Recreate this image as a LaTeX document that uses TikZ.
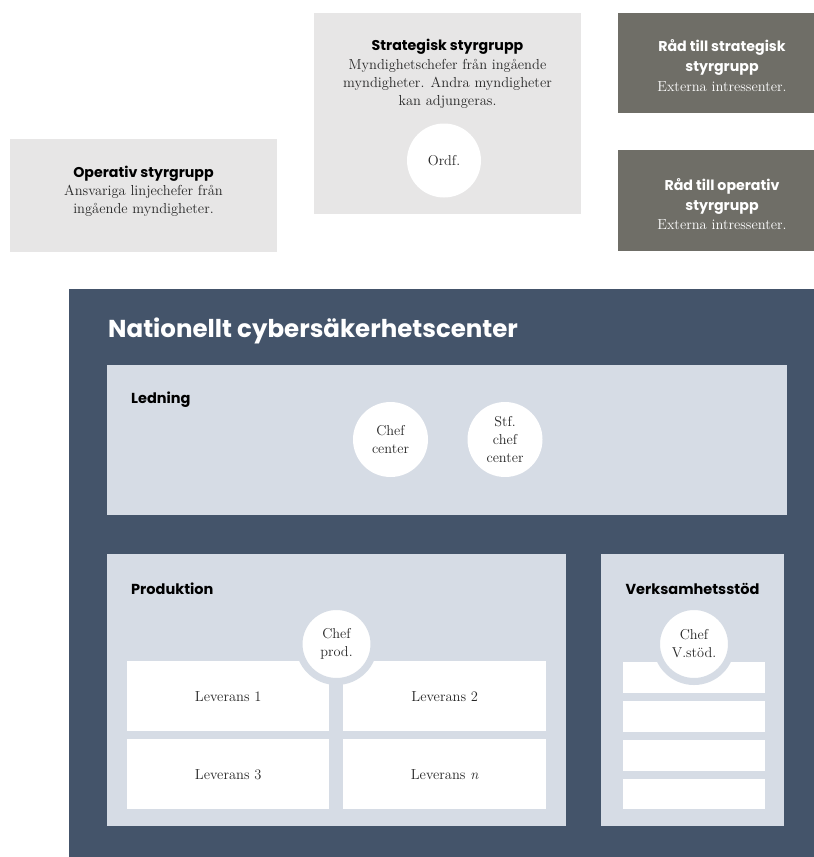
\documentclass[tikz,border=0pt]{standalone}
\usepackage{fontspec}
\newfontfamily\gothic{Poppins}
\definecolor{paleGray}{HTML}{E7E6E6}
\definecolor{stone}{HTML}{6F6E67}
\definecolor{navy}{HTML}{44546A}
\definecolor{mist}{HTML}{D6DCE5}
\definecolor{ink}{HTML}{262626}
\begin{document}
\begin{tikzpicture}[x=1pt,y=-1pt,
  block/.style={fill=#1, draw=none, inner sep=0pt, anchor=north west},
  headtext/.style={font=\gothic\bfseries\fontsize{14.2}{20}\selectfont, align=center, inner sep=0pt, text=black},
  bodytext/.style={font=\fontsize{14.5}{18}\selectfont, align=center, inner sep=0pt, text=ink},
  tag/.style={font=\gothic\bfseries\fontsize{14.5}{17}\selectfont, inner sep=0pt, text=black},
  disc/.style={circle, fill=white, draw=none, minimum size=#1, inner sep=0pt,
               align=center, text=ink, font=\fontsize{14.3}{18}\selectfont},
  ringdisc/.style={circle, fill=white, draw=mist, line width=7pt, minimum size=75pt,
               inner sep=0pt, align=center, text=ink, font=\fontsize{14.3}{18}\selectfont},
  slot/.style={block=white, align=center, text=ink, font=\fontsize{14.5}{17}\selectfont}
]
\useasboundingbox (0,0) rectangle (814,857);
\begin{scope}
\clip (0,0) rectangle (814,857);

% steering groups
\node[block=paleGray, minimum width=267pt, minimum height=113pt] (operativ) at (10,139) {};
\node[block=paleGray, minimum width=267pt, minimum height=201pt] (strategisk) at (314,13) {};
\node[block=stone, minimum width=208pt, minimum height=100pt] (radstrat) at (618,13) {};
\node[block=stone, minimum width=208pt, minimum height=101pt] (radop) at (618,150) {};

\node[headtext] (strathead) at (447.5,47) {Strategisk styrgrupp};
\node[bodytext] (stratbody) at (447.5,83.5) {Myndighetschefer från ingående\\myndigheter. Andra myndigheter\\kan adjungeras.};
\node[disc=74pt] (ordf) at (444,160.5) {Ordf.};

\node[headtext] (ophead) at (143.5,173.5) {Operativ styrgrupp};
\node[bodytext] (opbody) at (143.5,200.5) {Ansvariga linjechefer från\\ingående myndigheter.};

\node[headtext, text=white] (radstrathead) at (722,57) {Råd till strategisk\\styrgrupp};
\node[bodytext, text=white] (radstratbody) at (722,86.5) {Externa intressenter.};
\node[headtext, text=white] (radophead) at (722,196) {Råd till operativ\\styrgrupp};
\node[bodytext, text=white] (radopbody) at (722,224.5) {Externa intressenter.};

% the centre
\node[block=navy, minimum width=760pt, minimum height=580pt] (ncsc) at (69,289) {};
\node[inner sep=0pt, anchor=west, text=white, font=\gothic\bfseries\fontsize{24.5}{28}\selectfont]
  (ncsctitle) at (108,331) {Nationellt cybersäkerhetscenter};

% management
\node[block=mist, minimum width=680pt, minimum height=150pt] (ledning) at (107,365) {};
\node[tag, anchor=west] (ledningtxt) at (131,400) {Ledning};
\node[disc=75pt] (chefcenter) at (390.5,439.5) {Chef\\center};
\node[disc=75pt] (stfchef) at (505,439.5) {Stf.\\chef\\center};

% production
\node[block=mist, minimum width=459pt, minimum height=272pt] (produktion) at (107,554) {};
\node[tag, anchor=west] (produktiontxt) at (131,589) {Produktion};
\node[slot, minimum width=202pt, minimum height=70pt] (lev1) at (127,661) {Leverans 1};
\node[slot, minimum width=203pt, minimum height=70pt] (lev2) at (343,661) {Leverans 2};
\node[slot, minimum width=202pt, minimum height=70pt] (lev3) at (127,739) {Leverans 3};
\node[slot, minimum width=203pt, minimum height=70pt] (levn) at (343,739) {Leverans \textit{n}};
\node[ringdisc] (chefprod) at (336.5,644) {Chef\\prod.};

% business support
\node[block=mist, minimum width=183pt, minimum height=272pt] (stod) at (601,554) {};
\node[tag] (stodtxt) at (692.5,589) {Verksamhetsstöd};
\node[block=white, minimum width=142pt, minimum height=31pt] (stod1) at (623,662) {};
\node[block=white, minimum width=142pt, minimum height=31pt] (stod2) at (623,701) {};
\node[block=white, minimum width=142pt, minimum height=31pt] (stod3) at (623,740) {};
\node[block=white, minimum width=142pt, minimum height=30pt] (stod4) at (623,779) {};
\node[ringdisc] (chefstod) at (694,644) {Chef\\V.stöd.};
\end{scope}
\end{tikzpicture}
\end{document}
